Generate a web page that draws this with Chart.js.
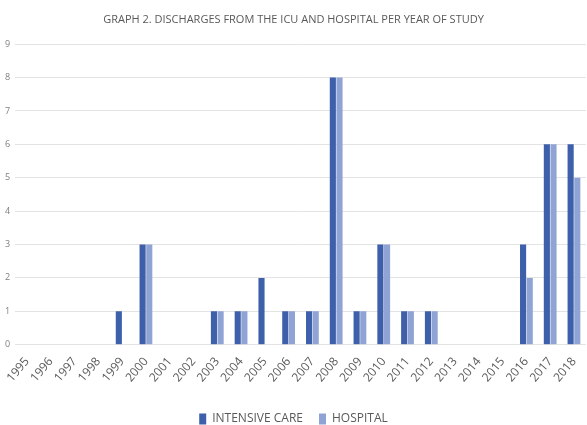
<!DOCTYPE html>
<html lang="en">
<head>
<meta charset="UTF-8">
<title>Graph 2</title>
<script src="https://cdn.jsdelivr.net/npm/chart.js"></script>
<style>
    html, body { margin: 0; padding: 0; background: #fff; }
    .wrap { position: relative; width: 587px; height: 425px; }
</style>
</head>
<body>
<div class="wrap"><canvas id="chart"></canvas></div>
<script>
// data
const years = ['1995','1996','1997','1998','1999','2000','2001','2002','2003','2004','2005','2006',
               '2007','2008','2009','2010','2011','2012','2013','2014','2015','2016','2017','2018'];
const intensiveCare = [0,0,0,0,1,3,0,0,1,1,2,1,1,8,1,3,1,1,0,0,0,3,6,6];
const hospital      = [0,0,0,0,0,3,0,0,1,1,0,1,1,8,1,3,1,1,0,0,0,2,6,5];
const yTicks = [0,1,2,3,4,5,6,7,8,9];

const FONT = "'Open Sans', sans-serif";

// push the legend a little lower, closer to the bottom edge
const legendShift = {
    id: 'legendShift',
    afterLayout(chart) {
        const lg = chart.legend;
        if (!lg) return;
        lg.top += 10;
        lg.bottom += 10;
        (lg.legendHitBoxes || []).forEach(b => { b.top += 10; });
    }
};

new Chart(document.getElementById('chart'), {
    type: 'bar',
    data: {
        labels: years,
        datasets: [
            {
                label: 'INTENSIVE CARE',
                data: intensiveCare,
                backgroundColor: '#3e5fa9',
                barPercentage: 0.92,
                categoryPercentage: 0.56
            },
            {
                label: 'HOSPITAL',
                data: hospital,
                backgroundColor: '#8fa3d4',
                barPercentage: 0.92,
                categoryPercentage: 0.56
            }
        ]
    },
    options: {
        responsive: true,
        maintainAspectRatio: false,
        animation: false,
        layout: { padding: { left: 0, right: 0, top: 4, bottom: 0 } },
        scales: {
            x: {
                grid: { display: false },
                border: { display: false },
                ticks: {
                    color: '#595959',
                    font: { family: FONT, size: 12 },
                    maxRotation: 50,
                    minRotation: 50,
                    autoSkip: false,
                    padding: 2
                }
            },
            y: {
                min: 0,
                max: 9,
                afterBuildTicks: axis => { axis.ticks = yTicks.map(v => ({ value: v })); },
                grid: { color: '#e3e3e3', drawTicks: false },
                border: { display: false },
                ticks: {
                    color: '#7f7f7f',
                    font: { family: FONT, size: 9 },
                    padding: 5
                }
            }
        },
        plugins: {
            title: {
                display: true,
                text: 'GRAPH 2. DISCHARGES FROM THE ICU AND HOSPITAL PER YEAR OF STUDY',
                color: '#595959',
                font: { family: FONT, size: 11, weight: 'normal' },
                padding: { top: 9, bottom: 18 }
            },
            legend: {
                position: 'bottom',
                labels: {
                    color: '#595959',
                    font: { family: FONT, size: 12 },
                    boxWidth: 7,
                    boxHeight: 11,
                    padding: 16
                }
            },
            tooltip: { enabled: true }
        }
    },
    plugins: [legendShift]
});
</script>
</body>
</html>
